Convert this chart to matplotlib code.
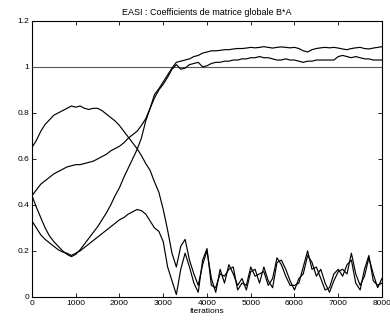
import matplotlib
matplotlib.use("Agg")
import matplotlib.pyplot as plt
import numpy as np
from matplotlib.ticker import FormatStrFormatter

plt.rcParams['font.family'] = ['Liberation Sans', 'DejaVu Sans']

# iterations, one value every 100
iters = np.arange(0, 8001, 100)

# coefficient qui monte a 0.83 puis tombe vers 0
coef_a = [0.65, 0.68, 0.72, 0.75, 0.77, 0.79, 0.80, 0.81, 0.82, 0.83,
          0.825, 0.83, 0.82, 0.815, 0.82, 0.82, 0.81, 0.795, 0.78, 0.765,
          0.745, 0.72, 0.695, 0.67, 0.645, 0.615, 0.58, 0.55, 0.50, 0.455,
          0.38, 0.29, 0.19, 0.13, 0.22, 0.25, 0.16, 0.10, 0.05, 0.14,
          0.20, 0.08, 0.02, 0.12, 0.06, 0.14, 0.10, 0.05, 0.08, 0.03,
          0.11, 0.12, 0.06, 0.13, 0.07, 0.04, 0.15, 0.16, 0.12, 0.07,
          0.03, 0.08, 0.10, 0.18, 0.15, 0.09, 0.12, 0.06, 0.02, 0.07,
          0.11, 0.12, 0.10, 0.19, 0.10, 0.05, 0.09, 0.17, 0.10, 0.04,
          0.08]

# coefficient qui monte vers 1.03
coef_b = [0.44, 0.465, 0.49, 0.505, 0.52, 0.535, 0.545, 0.555, 0.565, 0.57,
          0.575, 0.575, 0.58, 0.585, 0.59, 0.60, 0.61, 0.62, 0.635, 0.645,
          0.655, 0.67, 0.69, 0.705, 0.72, 0.745, 0.775, 0.82, 0.865, 0.90,
          0.925, 0.955, 0.99, 1.01, 0.99, 0.995, 1.01, 1.015, 1.02, 1.0,
          1.005, 1.015, 1.02, 1.02, 1.025, 1.025, 1.03, 1.03, 1.035, 1.035,
          1.04, 1.04, 1.045, 1.04, 1.04, 1.035, 1.03, 1.03, 1.035, 1.03,
          1.03, 1.025, 1.02, 1.025, 1.025, 1.03, 1.03, 1.03, 1.03, 1.03,
          1.045, 1.05, 1.045, 1.04, 1.045, 1.04, 1.035, 1.035, 1.03, 1.03,
          1.03]

# coefficient qui descend a 0.18 puis monte vers 1.08
coef_c = [0.44, 0.39, 0.345, 0.30, 0.265, 0.24, 0.22, 0.20, 0.185, 0.175,
          0.185, 0.205, 0.23, 0.255, 0.28, 0.305, 0.335, 0.365, 0.40, 0.44,
          0.475, 0.52, 0.56, 0.60, 0.64, 0.69, 0.765, 0.82, 0.88, 0.905,
          0.935, 0.965, 0.995, 1.02, 1.025, 1.03, 1.035, 1.045, 1.05, 1.06,
          1.065, 1.07, 1.07, 1.072, 1.075, 1.075, 1.078, 1.08, 1.08, 1.082,
          1.085, 1.083, 1.085, 1.088, 1.085, 1.082, 1.085, 1.087, 1.085, 1.083,
          1.085, 1.08, 1.07, 1.065, 1.075, 1.08, 1.083, 1.085, 1.083, 1.085,
          1.082, 1.078, 1.075, 1.08, 1.083, 1.085, 1.08, 1.078, 1.082, 1.085,
          1.088]

# coefficient qui descend a 0.19, bosse a 0.38 puis tombe vers 0
coef_d = [0.33, 0.30, 0.27, 0.25, 0.235, 0.22, 0.205, 0.195, 0.19, 0.18,
          0.19, 0.20, 0.215, 0.23, 0.245, 0.26, 0.275, 0.29, 0.305, 0.32,
          0.335, 0.345, 0.36, 0.37, 0.38, 0.375, 0.36, 0.33, 0.30, 0.285,
          0.24, 0.13, 0.07, 0.01, 0.12, 0.19, 0.13, 0.06, 0.02, 0.16,
          0.21, 0.05, 0.04, 0.10, 0.09, 0.12, 0.13, 0.03, 0.06, 0.05,
          0.13, 0.09, 0.10, 0.11, 0.05, 0.08, 0.17, 0.14, 0.09, 0.05,
          0.05, 0.06, 0.13, 0.20, 0.12, 0.13, 0.08, 0.03, 0.04, 0.10,
          0.12, 0.09, 0.14, 0.16, 0.06, 0.03, 0.12, 0.18, 0.07, 0.05,
          0.06]

fig = plt.figure(figsize=(3.9, 3.22), dpi=100)
ax = fig.add_axes([0.082, 0.078, 0.8975, 0.857])

ax.axhline(1.0, color='0.35', linewidth=0.8)
for c in (coef_a, coef_b, coef_c, coef_d):
    ax.plot(iters, c, color='k', linewidth=0.85)

ax.set_xlim(0, 8000)
ax.set_ylim(0, 1.2)
ax.set_xticks(np.arange(0, 8001, 1000))
ax.set_yticks(np.arange(0, 1.21, 0.2))
ax.yaxis.set_major_formatter(FormatStrFormatter('%g'))
ax.tick_params(direction='in', top=True, right=True, labelsize=6, length=3,
               width=0.6, pad=2)
for s in ax.spines.values():
    s.set_linewidth(0.8)

ax.set_title("EASI : Coefficients de matrice globale B*A", fontsize=6.5, pad=4)
ax.set_xlabel("Iterations", fontsize=6, labelpad=1)

fig.savefig("out.png", dpi=100)
